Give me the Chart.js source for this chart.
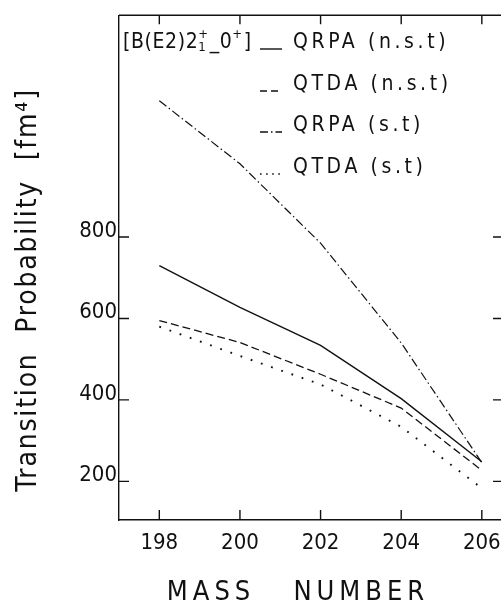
<!DOCTYPE html>
<html>
<head>
<meta charset="utf-8">
<script src="https://cdn.jsdelivr.net/npm/chart.js@4.4.1/dist/chart.umd.min.js"></script>
<style>
  html, body { margin: 0; padding: 0; background: #fff; overflow: hidden; }
  #wrap { width: 512px; height: 608px; }
</style>
</head>
<body>
<div id="wrap"><canvas id="chart-be2" width="512" height="608"></canvas></div>
<script>
// values
const massNumbers = [198, 200, 202, 204, 206];
const qrpaNst = [730, 627, 534, 403, 248];
const qtdaNst = [595, 541, 463, 380, 227];
const qrpaSt = [1135, 980, 785, 540, 246];
const qtdaSt = [580, 508, 438, 334, 183];
const xTicks = [198, 200, 202, 204, 206];
const yTicks = [200, 400, 600, 800];
const legendLabels = ["QRPA (n.s.t)", "QTDA (n.s.t)", "QRPA (s.t)", "QTDA (s.t)"];

const INK = "#111";
const narrow = "'Liberation Sans Narrow', 'DejaVu Sans Condensed', sans-serif";
const cond = "'DejaVu Sans Condensed', 'DejaVu Sans', sans-serif";

function toPoints(values) {
  return massNumbers.map((m, i) => ({ x: m, y: values[i] }));
}

function makeSet(label, values, dash, width) {
  return {
    label: label,
    data: toPoints(values),
    borderColor: INK,
    borderWidth: width,
    borderDash: dash,
    pointRadius: 0,
    tension: 0,
    fill: false,
  };
}

// inward ticks, top/right frame, legend and titles
const framePlugin = {
  id: "frame",
  afterDraw(chart) {
    const ctx = chart.ctx;
    const { left, right, top, bottom } = chart.chartArea;
    const x = chart.scales.x;
    const y = chart.scales.y;

    ctx.save();
    ctx.strokeStyle = INK;
    ctx.lineWidth = 1.4;
    ctx.beginPath();
    ctx.moveTo(left, top);
    ctx.lineTo(right, top);
    ctx.lineTo(right, bottom);
    xTicks.forEach((v) => {
      const px = x.getPixelForValue(v);
      ctx.moveTo(px, bottom);
      ctx.lineTo(px, bottom - 10);
      ctx.moveTo(px, top);
      ctx.lineTo(px, top + 9);
    });
    yTicks.forEach((v) => {
      const py = y.getPixelForValue(v);
      ctx.moveTo(left, py);
      ctx.lineTo(left + 10, py);
      ctx.moveTo(right, py);
      ctx.lineTo(right - 11, py);
    });
    ctx.stroke();

    // legend
    ctx.fillStyle = INK;
    ctx.textBaseline = "alphabetic";
    ctx.textAlign = "left";
    const rows = [48, 90, 131, 173];
    const samples = [[], [7, 4], [8, 3, 1.5, 3], [1.6, 4.5]];
    chart.data.datasets.forEach((ds, i) => {
      const by = rows[i];
      ctx.save();
      ctx.lineWidth = 1.4;
      ctx.setLineDash(samples[i]);
      ctx.beginPath();
      ctx.moveTo(left + 141, by + 1);
      ctx.lineTo(left + 163, by + 1);
      ctx.stroke();
      ctx.restore();
      ctx.font = "21px " + cond;
      ctx.letterSpacing = "3.6px";
      ctx.fillText(legendLabels[i], left + 174, by);
    });

    // header label [B(E2)2_1^+ -> 0^+]
    ctx.letterSpacing = "0.6px";
    let hx = left + 4;
    const hy = 48;
    const big = "21px " + cond;
    const small = "13px " + cond;
    ctx.font = big;
    ctx.fillText("[B(E2)2", hx, hy);
    hx += ctx.measureText("[B(E2)2").width;
    ctx.font = small;
    ctx.fillText("+", hx, hy - 10);
    ctx.fillText("1", hx, hy + 3);
    hx += ctx.measureText("+").width + 1;
    ctx.font = big;
    ctx.fillText("_0", hx, hy);
    hx += ctx.measureText("_0").width;
    ctx.font = small;
    ctx.fillText("+", hx, hy - 10);
    hx += ctx.measureText("+").width + 1;
    ctx.font = big;
    ctx.fillText("]", hx, hy);

    // axis titles
    ctx.font = "27px " + cond;
    ctx.letterSpacing = "5px";
    ctx.textAlign = "center";
    ctx.textBaseline = "middle";
    ctx.fillText("MASS   NUMBER", 298, 593);

    ctx.translate(29, 290);
    ctx.rotate(-Math.PI / 2);
    ctx.font = "28px " + cond;
    ctx.letterSpacing = "1.8px";
    ctx.fillText("Transition  Probability  [fm\u2074]", 0, 0);
    ctx.restore();
  },
};

new Chart(document.getElementById("chart-be2"), {
  type: "line",
  data: {
    datasets: [
      makeSet(legendLabels[0], qrpaNst, [], 1.4),
      makeSet(legendLabels[1], qtdaNst, [8, 4], 1.3),
      makeSet(legendLabels[2], qrpaSt, [9, 3, 1.5, 3], 1.2),
      makeSet(legendLabels[3], qtdaSt, [1.8, 9], 1.9),
    ],
  },
  options: {
    responsive: false,
    animation: false,
    layout: { padding: { left: 0, top: 8, right: 8, bottom: 0 } },
    plugins: { legend: { display: false }, tooltip: { enabled: false } },
    scales: {
      x: {
        type: "linear",
        min: 197,
        max: 206.55,
        afterBuildTicks: (s) => { s.ticks = xTicks.map((v) => ({ value: v })); },
        afterFit: (s) => { s.height = 88; },
        grid: { display: false, drawTicks: false },
        border: { display: true, color: INK, width: 1.4 },
        ticks: { color: INK, font: { family: narrow, size: 22 }, padding: 10, maxRotation: 0, autoSkip: false },
      },
      y: {
        type: "linear",
        min: 105,
        max: 1345,
        afterBuildTicks: (s) => { s.ticks = yTicks.map((v) => ({ value: v })); },
        afterFit: (s) => { s.width = 119; },
        grid: { display: false, drawTicks: false },
        border: { display: true, color: INK, width: 1.4 },
        ticks: { color: INK, font: { family: narrow, size: 22 }, padding: 2, labelOffset: -6 },
      },
    },
  },
  plugins: [framePlugin],
});
</script>
</body>
</html>
